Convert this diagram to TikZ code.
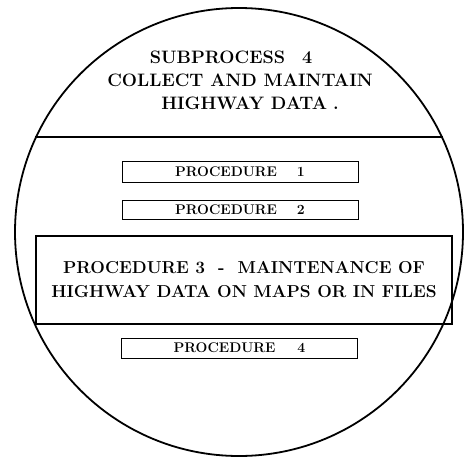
\documentclass[tikz,border=0pt]{standalone}
\usepackage{fontspec}
\begin{document}
\begin{tikzpicture}[x=1pt,y=-1pt,
  outline/.style={draw, circle, line width=1.8pt, minimum size=448pt, inner sep=0pt},
  divider/.style={line width=1.3pt},
  title/.style={font=\bfseries\fontsize{18}{24}\selectfont, inner sep=0pt},
  procbox/.style={draw, line width=1pt, inner sep=0pt, minimum width=236pt,
                  font=\bfseries\fontsize{14}{16}\selectfont},
  bigbox/.style={draw, line width=1.2pt, inner sep=0pt, minimum width=416pt,
                 minimum height=88pt, align=center,
                 font=\bfseries\fontsize{17.3}{24}\selectfont}]
\useasboundingbox (0,0) rectangle (465,460);
\node[outline] (circ) at (239,232) {};
\draw[divider] (circ.155) -- (circ.25);
\node[title] (t1) at (231,57) {SUBPROCESS\hspace{17pt}4};
\node[title] (t2) at (240,80) {COLLECT AND MAINTAIN};
\node[title] (t3) at (250,103) {HIGHWAY DATA\hspace{6pt}.};
\node[procbox, minimum height=21pt] (p1) at (240,171.5) {PROCEDURE\hspace{20pt}1};
\node[procbox, minimum height=19pt] (p2) at (240,209.5) {PROCEDURE\hspace{20pt}2};
\node[bigbox] (p3) at (244,280) {PROCEDURE 3~~-~~MAINTENANCE OF\\HIGHWAY DATA ON MAPS OR IN FILES};
\node[procbox, minimum height=20pt] (p4) at (239.5,348) {PROCEDURE\hspace{22pt}4};
\end{tikzpicture}
\end{document}
